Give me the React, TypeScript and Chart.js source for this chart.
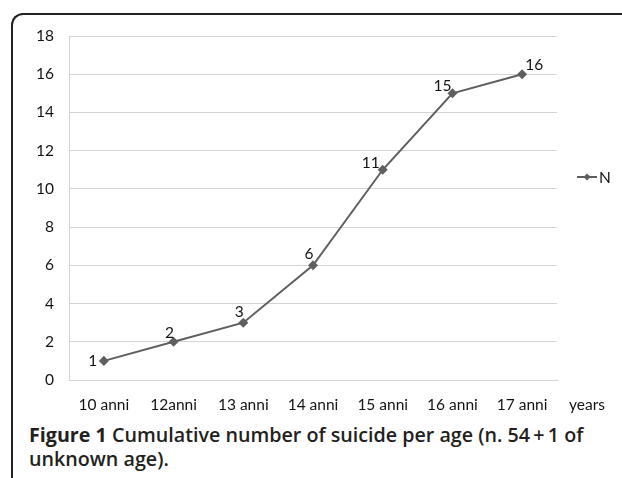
import React, { useEffect, useRef } from "react";
import { Chart, registerables } from "chart.js";

Chart.register(...registerables);

const categories = ["10 anni", "12anni", "13 anni", "14 anni", "15 anni", "16 anni", "17 anni"];
const seriesN = [1, 2, 3, 6, 11, 15, 16];
const seriesName = "N";
const yTicks = [0, 2, 4, 6, 8, 10, 12, 14, 16, 18];
const xAxisTitle = "years";

// label placement relative to each point (style only)
const LABEL_OFFSETS: [number, number][] = [
  [-11, 0],
  [-4, -9],
  [-4, -11],
  [-4, -11],
  [-12, -7],
  [-10, -7],
  [12, -9],
];

const FONT = "Lato, 'Open Sans', sans-serif";
const FONT_SIZE = 15.5;
const LINE_COLOR = "#5f5f5f";
const TEXT_COLOR = "#141414";

const extrasPlugin = {
  id: "extras",
  afterDatasetsDraw(chart: any) {
    const { ctx, chartArea } = chart;
    const meta = chart.getDatasetMeta(0);
    ctx.save();
    ctx.font = `${FONT_SIZE}px ${FONT}`;
    ctx.fillStyle = TEXT_COLOR;
    ctx.textAlign = "center";
    ctx.textBaseline = "middle";
    meta.data.forEach((pt: any, i: number) => {
      const [dx, dy] = LABEL_OFFSETS[i] || [0, -10];
      ctx.fillText(String(seriesN[i]), pt.x + dx, pt.y + dy);
    });
    // axis title "years" to the right of the category labels
    const xScale = chart.scales.x;
    ctx.fillText(xAxisTitle, chartArea.right + 30, xScale.top + 25);
    // legend
    const ly = 177;
    const lx = chartArea.right + 20;
    ctx.strokeStyle = LINE_COLOR;
    ctx.lineWidth = 2;
    ctx.beginPath();
    ctx.moveTo(lx, ly);
    ctx.lineTo(lx + 20, ly);
    ctx.stroke();
    ctx.fillStyle = LINE_COLOR;
    ctx.beginPath();
    ctx.moveTo(lx + 10, ly - 3.5);
    ctx.lineTo(lx + 13.5, ly);
    ctx.lineTo(lx + 10, ly + 3.5);
    ctx.lineTo(lx + 6.5, ly);
    ctx.closePath();
    ctx.fill();
    ctx.fillStyle = TEXT_COLOR;
    ctx.textAlign = "left";
    ctx.fillText(seriesName, lx + 22, ly + 1);
    ctx.restore();
  },
};

export default function App() {
  const canvasRef = useRef<HTMLCanvasElement>(null);

  useEffect(() => {
    if (!canvasRef.current) return;
    const chart = new Chart(canvasRef.current, {
      type: "line",
      data: {
        labels: categories,
        datasets: [
          {
            label: seriesName,
            data: seriesN,
            borderColor: LINE_COLOR,
            backgroundColor: LINE_COLOR,
            borderWidth: 2,
            pointStyle: "rectRot",
            pointRadius: 3.6,
            pointHoverRadius: 3.6,
            tension: 0,
          },
        ],
      },
      options: {
        animation: false,
        responsive: false,
        layout: { padding: { left: 0, right: 65, top: 36, bottom: 0 } },
        plugins: {
          legend: { display: false },
          tooltip: { enabled: false },
        },
        scales: {
          x: {
            type: "category",
            offset: true,
            grid: { display: false, drawTicks: false },
            border: { display: true, color: "#d4d4d4", width: 1 },
            ticks: {
              font: { family: FONT, size: FONT_SIZE },
              color: TEXT_COLOR,
              padding: 16,
              maxRotation: 0,
              autoSkip: false,
            },
            afterFit: (s: any) => {
              s.height = 40;
            },
          },
          y: {
            min: 0,
            max: 18,
            afterBuildTicks: (s: any) => {
              s.ticks = yTicks.map((v) => ({ value: v }));
            },
            grid: { color: "#d4d4d4", drawTicks: false, lineWidth: 1 },
            border: { display: true, color: "#d4d4d4", width: 1 },
            ticks: {
              font: { family: FONT, size: FONT_SIZE },
              color: TEXT_COLOR,
              padding: 15,
            },
            afterFit: (s: any) => {
              s.width = 69;
            },
          },
        },
      },
      plugins: [extrasPlugin],
    });
    return () => chart.destroy();
  }, []);

  return (
    <div
      style={{
        position: "fixed",
        left: 0,
        top: 0,
        width: 622,
        height: 478,
        overflow: "hidden",
        background: "#fff",
      }}
    >
      <div
        style={{
          position: "absolute",
          left: 11,
          top: 13,
          width: 640,
          height: 500,
          borderTop: "2px solid #222",
          borderLeft: "2px solid #222",
          borderTopLeftRadius: 12,
          boxSizing: "border-box",
        }}
      />
      <canvas
        ref={canvasRef}
        width={622}
        height={420}
        style={{ position: "absolute", left: 0, top: 0, width: 622, height: 420 }}
      />
      <div
        style={{
          position: "absolute",
          left: 29,
          top: 423,
          fontFamily: "'Open Sans', sans-serif",
          fontSize: 19.7,
          lineHeight: "24px",
          color: "#231f20",
          fontWeight: 600,
          whiteSpace: "nowrap",
        }}
      >
        <span style={{ fontWeight: 700 }}>Figure 1</span> Cumulative number of suicide per age (n. 54{"\u2009"}+{"\u2009"}1 of
        <br />
        unknown age).
      </div>
    </div>
  );
}
